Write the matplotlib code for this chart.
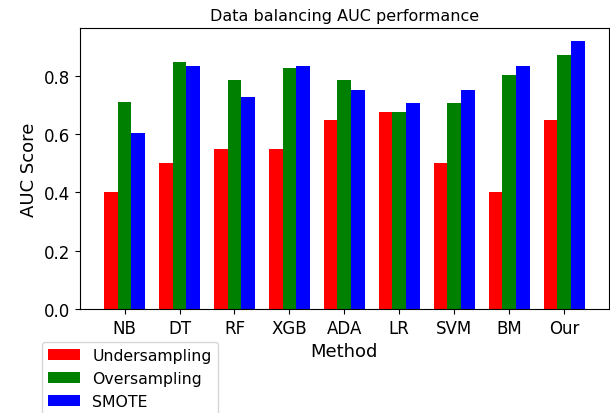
import numpy as np
import matplotlib
matplotlib.use('Agg')
import matplotlib.pyplot as plt

methods = ['NB', 'DT', 'RF', 'XGB', 'ADA', 'LR', 'SVM', 'BM', 'Our']
undersampling = [0.40, 0.50, 0.55, 0.55, 0.65, 0.675, 0.50, 0.40, 0.65]
oversampling = [0.71, 0.847, 0.785, 0.827, 0.787, 0.675, 0.707, 0.803, 0.871]
smote = [0.605, 0.833, 0.727, 0.833, 0.751, 0.707, 0.751, 0.833, 0.918]

fig = plt.figure(figsize=(6.10, 4.14), dpi=100)
ax = fig.add_axes([0.131, 0.251, 0.867, 0.679])

x = np.arange(len(methods))
width = 0.25
ax.bar(x - width, undersampling, width, color='red', label='Undersampling')
ax.bar(x, oversampling, width, color='green', label='Oversampling')
ax.bar(x + width, smote, width, color='blue', label='SMOTE')

ax.set_xticks(x)
ax.set_xticklabels(methods, fontsize=12)
ax.tick_params(axis='y', labelsize=12)
ax.set_xlabel('Method', fontsize=13)
ax.set_ylabel('AUC Score', fontsize=13)
ax.set_title('Data balancing AUC performance', fontsize=11.5)

# legend sits below the axes, partly cut off by the figure edge
fig.legend(loc='upper left', bbox_to_anchor=(0.069, 0.1715),
           borderaxespad=0, fontsize=11.3)

fig.savefig('out.png', dpi=100)
